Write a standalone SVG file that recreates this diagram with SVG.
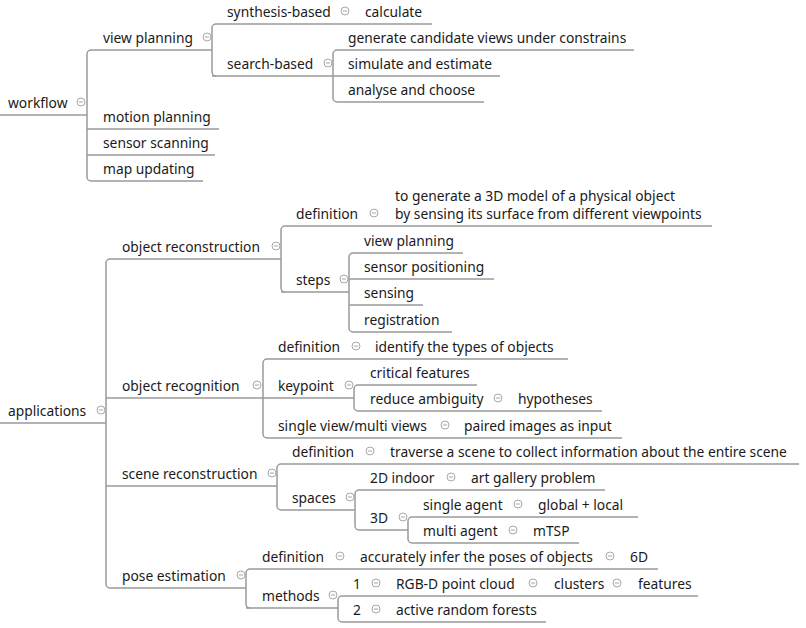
<svg xmlns="http://www.w3.org/2000/svg" width="806" height="628" viewBox="0 0 806 628">
<defs>
<style>
text{font-family:"Noto Sans","Open Sans","DejaVu Sans",sans-serif;font-size:13.8px;fill:#1a1a1a}
.u{stroke:#9a9a9a;stroke-width:1.5;fill:none}
.c{stroke:#9a9a9a;stroke-width:1.5;fill:none}
</style>
<g id="col"><circle cx="0" cy="0" r="4" fill="#fff" stroke="#a8a8a8" stroke-width="1"/><line x1="-2.2" y1="0" x2="2.2" y2="0" stroke="#a8a8a8" stroke-width="1"/></g>
</defs>
<rect width="806" height="628" fill="#fff"/>

<g id="connectors">
<path class="c" d="M91 50 A4 4 0 0 0 87 54 L87 177 A4 4 0 0 0 91 181"/>
<path class="c" d="M216 24 A4 4 0 0 0 212 28 L212 72 A4 4 0 0 0 216 76"/>
<path class="c" d="M337 50 A4 4 0 0 0 333 54 L333 98 A4 4 0 0 0 337 102"/>
<path class="c" d="M110 259 A4 4 0 0 0 106 263 L106 584 A4 4 0 0 0 110 588"/>
<path class="c" d="M285 226 A4 4 0 0 0 281 230 L281 288 A4 4 0 0 0 285 292"/>
<path class="c" d="M353 253 A4 4 0 0 0 349 257 L349 328 A4 4 0 0 0 353 332"/>
<path class="c" d="M267 359 A4 4 0 0 0 263 363 L263 434 A4 4 0 0 0 267 438"/>
<path class="c" d="M358 385 A4 4 0 0 0 354 389 L354 407 A4 4 0 0 0 358 411"/>
<path class="c" d="M281 464 A4 4 0 0 0 277 468 L277 506 A4 4 0 0 0 281 510"/>
<path class="c" d="M359 490 A4 4 0 0 0 355 494 L355 526 A4 4 0 0 0 359 530"/>
<path class="c" d="M412 517 A4 4 0 0 0 408 521 L408 539 A4 4 0 0 0 412 543"/>
<path class="c" d="M250 569 A4 4 0 0 0 246 573 L246 604 A4 4 0 0 0 250 608"/>
<path class="c" d="M342 596 A4 4 0 0 0 338 600 L338 618 A4 4 0 0 0 342 622"/>
</g>

<g id="workflow"><line class="u" x1="0" y1="115" x2="87" y2="115"/><text x="8" y="107.5">workflow</text><use href="#col" x="81" y="102"/></g>
<g id="view-planning"><line class="u" x1="91" y1="50" x2="212" y2="50"/><text x="103" y="42.5">view planning</text><use href="#col" x="207" y="37"/></g>
<g id="synthesis-based"><line class="u" x1="216" y1="24" x2="355" y2="24"/><text x="227" y="16.5">synthesis-based</text><use href="#col" x="345" y="11"/></g>
<g id="calculate"><line class="u" x1="355" y1="24" x2="432" y2="24"/><text x="365" y="16.5">calculate</text></g>
<g id="search-based"><line class="u" x1="212" y1="76" x2="333" y2="76"/><text x="227" y="68.5">search-based</text><use href="#col" x="328" y="63"/></g>
<g id="generate"><line class="u" x1="337" y1="50" x2="634" y2="50"/><text x="348" y="42.5">generate candidate views under constrains</text></g>
<g id="simulate"><line class="u" x1="333" y1="76" x2="500" y2="76"/><text x="348" y="68.5">simulate and estimate</text></g>
<g id="analyse"><line class="u" x1="337" y1="102" x2="484" y2="102"/><text x="348" y="94.5">analyse and choose</text></g>
<g id="motion-planning"><line class="u" x1="87" y1="129" x2="219" y2="129"/><text x="103" y="121.5">motion planning</text></g>
<g id="sensor-scanning"><line class="u" x1="87" y1="155" x2="215" y2="155"/><text x="103" y="147.5">sensor scanning</text></g>
<g id="map-updating"><line class="u" x1="91" y1="181" x2="203" y2="181"/><text x="103" y="173.5">map updating</text></g>

<g id="applications"><line class="u" x1="0" y1="423" x2="106" y2="423"/><text x="8" y="415.5">applications</text><use href="#col" x="101" y="410"/></g>

<g id="object-reconstruction"><line class="u" x1="110" y1="259" x2="281" y2="259"/><text x="122" y="251.5">object reconstruction</text><use href="#col" x="276" y="246"/></g>
<g id="or-definition"><line class="u" x1="285" y1="226" x2="385" y2="226"/><text x="296" y="218.5">definition</text><use href="#col" x="374" y="213"/></g>
<g id="or-definition-text"><line class="u" x1="385" y1="226" x2="712" y2="226"/><text x="395" y="200.5">to generate a 3D model of a physical object</text><text x="395" y="218.5">by sensing its surface from different viewpoints</text></g>
<g id="steps"><line class="u" x1="281" y1="292" x2="349" y2="292"/><text x="296" y="284.5">steps</text><use href="#col" x="344" y="279"/></g>
<g id="step-view-planning"><line class="u" x1="353" y1="253" x2="463" y2="253"/><text x="364" y="245.5">view planning</text></g>
<g id="step-sensor-positioning"><line class="u" x1="349" y1="279" x2="494" y2="279"/><text x="364" y="271.5">sensor positioning</text></g>
<g id="step-sensing"><line class="u" x1="349" y1="305" x2="423" y2="305"/><text x="364" y="297.5">sensing</text></g>
<g id="step-registration"><line class="u" x1="353" y1="332" x2="452" y2="332"/><text x="364" y="324.5">registration</text></g>

<g id="object-recognition"><line class="u" x1="106" y1="398" x2="263" y2="398"/><text x="122" y="390.5">object recognition</text><use href="#col" x="257" y="385"/></g>
<g id="rec-definition"><line class="u" x1="267" y1="359" x2="366" y2="359"/><text x="278" y="351.5">definition</text><use href="#col" x="356" y="346"/></g>
<g id="rec-definition-text"><line class="u" x1="366" y1="359" x2="568" y2="359"/><text x="375" y="351.5">identify the types of objects</text></g>
<g id="keypoint"><line class="u" x1="263" y1="398" x2="354" y2="398"/><text x="278" y="390.5">keypoint</text><use href="#col" x="349" y="385"/></g>
<g id="critical-features"><line class="u" x1="358" y1="385" x2="477" y2="385"/><text x="370" y="377.5">critical features</text></g>
<g id="reduce-ambiguity"><line class="u" x1="358" y1="411" x2="508" y2="411"/><text x="370" y="403.5">reduce ambiguity</text><use href="#col" x="498" y="398"/></g>
<g id="hypotheses"><line class="u" x1="508" y1="411" x2="602" y2="411"/><text x="518" y="403.5">hypotheses</text></g>
<g id="single-multi-views"><line class="u" x1="267" y1="438" x2="455" y2="438"/><text x="278" y="430.5">single view/multi views</text><use href="#col" x="445" y="425"/></g>
<g id="paired-images"><line class="u" x1="455" y1="438" x2="622" y2="438"/><text x="464" y="430.5">paired images as input</text></g>

<g id="scene-reconstruction"><line class="u" x1="106" y1="486" x2="277" y2="486"/><text x="122" y="478.5">scene reconstruction</text><use href="#col" x="272" y="473"/></g>
<g id="scene-definition"><line class="u" x1="281" y1="464" x2="380" y2="464"/><text x="292" y="456.5">definition</text><use href="#col" x="370" y="451"/></g>
<g id="scene-definition-text"><line class="u" x1="380" y1="464" x2="799" y2="464"/><text x="390" y="456.5">traverse a scene to collect information about the entire scene</text></g>
<g id="spaces"><line class="u" x1="281" y1="510" x2="355" y2="510"/><text x="292" y="502.5">spaces</text><use href="#col" x="350" y="497"/></g>
<g id="indoor-2d"><line class="u" x1="359" y1="490" x2="461" y2="490"/><text x="370" y="482.5">2D indoor</text><use href="#col" x="451" y="477"/></g>
<g id="art-gallery"><line class="u" x1="461" y1="490" x2="605" y2="490"/><text x="471" y="482.5">art gallery problem</text></g>
<g id="space-3d"><line class="u" x1="359" y1="530" x2="408" y2="530"/><text x="370" y="522.5">3D</text><use href="#col" x="403" y="517"/></g>
<g id="single-agent"><line class="u" x1="412" y1="517" x2="528" y2="517"/><text x="423" y="509.5">single agent</text><use href="#col" x="518" y="504"/></g>
<g id="global-local"><line class="u" x1="528" y1="517" x2="638" y2="517"/><text x="538" y="509.5">global + local</text></g>
<g id="multi-agent"><line class="u" x1="412" y1="543" x2="523" y2="543"/><text x="423" y="535.5">multi agent</text><use href="#col" x="513" y="530"/></g>
<g id="mtsp"><line class="u" x1="523" y1="543" x2="579" y2="543"/><text x="533" y="535.5">mTSP</text></g>

<g id="pose-estimation"><line class="u" x1="110" y1="588" x2="246" y2="588"/><text x="122" y="580.5">pose estimation</text><use href="#col" x="241" y="575"/></g>
<g id="pose-definition"><line class="u" x1="250" y1="569" x2="350" y2="569"/><text x="262" y="561.5">definition</text><use href="#col" x="340" y="556"/></g>
<g id="pose-definition-text"><line class="u" x1="350" y1="569" x2="620" y2="569"/><text x="360" y="561.5">accurately infer the poses of objects</text><use href="#col" x="610" y="556"/></g>
<g id="pose-6d"><line class="u" x1="620" y1="569" x2="658" y2="569"/><text x="630" y="561.5">6D</text></g>
<g id="methods"><line class="u" x1="246" y1="608" x2="338" y2="608"/><text x="262" y="600.5">methods</text><use href="#col" x="333" y="595"/></g>
<g id="method-1"><line class="u" x1="342" y1="596" x2="386" y2="596"/><text x="353" y="588.5">1</text><use href="#col" x="376" y="583"/></g>
<g id="rgbd"><line class="u" x1="386" y1="596" x2="543" y2="596"/><text x="396" y="588.5">RGB-D point cloud</text><use href="#col" x="533" y="583"/></g>
<g id="clusters"><line class="u" x1="543" y1="596" x2="627" y2="596"/><text x="554" y="588.5">clusters</text><use href="#col" x="617" y="583"/></g>
<g id="features"><line class="u" x1="627" y1="596" x2="698" y2="596"/><text x="638" y="588.5">features</text></g>
<g id="method-2"><line class="u" x1="342" y1="622" x2="386" y2="622"/><text x="353" y="614.5">2</text><use href="#col" x="376" y="609"/></g>
<g id="active-forests"><line class="u" x1="386" y1="622" x2="546" y2="622"/><text x="396" y="614.5">active random forests</text></g>
</svg>
